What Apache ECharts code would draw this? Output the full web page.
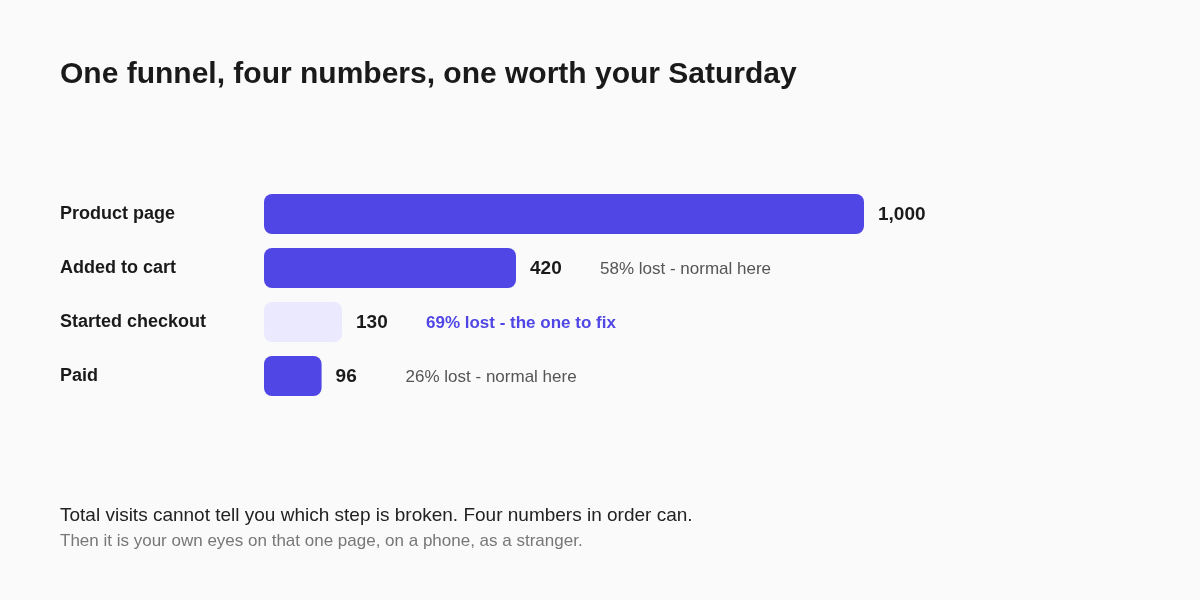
<!DOCTYPE html>
<html>
<head>
<meta charset="utf-8">
<style>
  html, body { margin: 0; padding: 0; background: #fafafa; }
  #chart { width: 1200px; height: 600px; }
</style>
<script src="https://cdn.jsdelivr.net/npm/echarts@6/dist/echarts.min.js"></script>
</head>
<body>
<div id="chart"></div>
<script>
// 漏斗的四个步骤
const steps = ['Product page', 'Added to cart', 'Started checkout', 'Paid']
const visitors = [1000, 420, 130, 96]
const notes = ['', '58% lost - normal here', '69% lost - the one to fix', '26% lost - normal here']
// 需要修的那一步
const focusIndex = 2

const chart = echarts.init(document.getElementById('chart'))

const barData = visitors.map((v, i) => ({
    value: v,
    itemStyle: { color: i === focusIndex ? '#ebe9fd' : '#4f46e5' },
    label: {
        formatter: notes[i]
            ? '{v|' + v.toLocaleString('en-US') + '}{' + (i === focusIndex ? 'h' : 'n') + '|' + notes[i] + '}'
            : '{v|' + v.toLocaleString('en-US') + '}'
    }
}))

const option = {
    backgroundColor: '#fafafa',
    textStyle: { fontFamily: 'Liberation Sans, Arial, sans-serif' },
    grid: { left: 264, right: 336, top: 187, height: 216 },
    xAxis: {
        type: 'value',
        min: 0,
        max: 1000,
        show: false
    },
    yAxis: {
        type: 'category',
        data: steps,
        inverse: true,
        axisLine: { show: false },
        axisTick: { show: false },
        axisLabel: {
            align: 'left',
            margin: 204,
            color: '#1a1a1a',
            fontSize: 18,
            fontWeight: 'bold',
            padding: [4, 0, 0, 0]
        }
    },
    series: [{
        type: 'bar',
        data: barData,
        barWidth: 40,
        itemStyle: { borderRadius: 8 },
        label: {
            show: true,
            position: 'right',
            distance: 14,
            offset: [0, 1],
            rich: {
                v: { width: 70, fontSize: 19, fontWeight: 'bold', color: '#1a1a1a' },
                n: { fontSize: 17, color: '#555555' },
                h: { fontSize: 17, fontWeight: 'bold', color: '#4f46e5' }
            }
        },
        silent: true,
        animation: false
    }],
    graphic: [
        {
            type: 'text', left: 60, top: 60,
            style: {
                text: 'One funnel, four numbers, one worth your Saturday',
                fontFamily: 'Liberation Sans', fontSize: 30, fontWeight: 'bold', fill: '#1a1a1a'
            }
        },
        {
            type: 'text', left: 60, top: 506,
            style: {
                text: 'Total visits cannot tell you which step is broken. Four numbers in order can.',
                fontFamily: 'Liberation Sans', fontSize: 19, fill: '#222222'
            }
        },
        {
            type: 'text', left: 60, top: 533,
            style: {
                text: 'Then it is your own eyes on that one page, on a phone, as a stranger.',
                fontFamily: 'Liberation Sans', fontSize: 17, fill: '#777777'
            }
        }
    ]
}

chart.setOption(option)

window.addEventListener('resize', () => {
    chart.resize()
})
</script>
</body>
</html>
